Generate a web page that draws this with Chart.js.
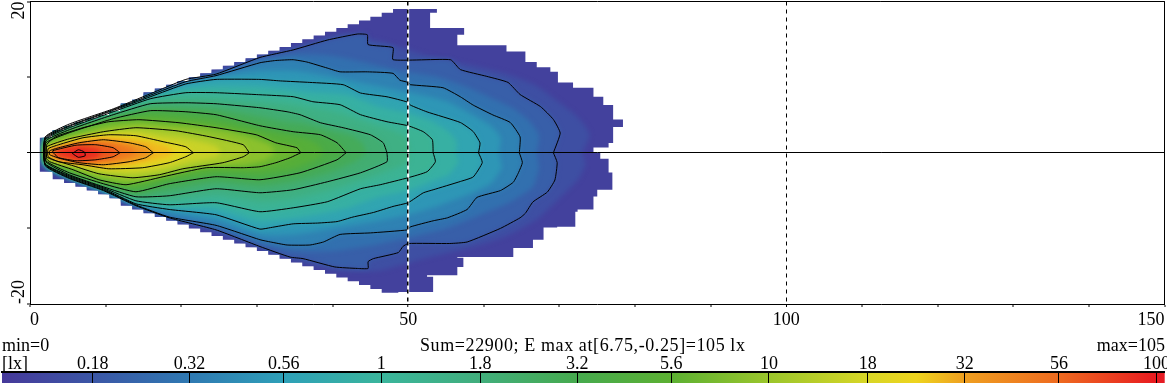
<!DOCTYPE html>
<html>
<head>
<meta charset="utf-8">
<title>Illuminance</title>
<script src="https://cdn.jsdelivr.net/npm/chart.js@4"></script>
<style>
  body { margin: 0; background: #fff; width: 1167px; height: 385px; overflow: hidden; position: relative; }
  canvas { position: absolute; left: 0; }
  #main { top: 0; }
  #bar { top: 352px; }
  .txt { position: absolute; font: 18px "Liberation Serif", serif; line-height: 18px; color: #000; white-space: pre; }
</style>
</head>
<body>
<canvas id="main" width="1167" height="335"></canvas>
<canvas id="bar" width="1167" height="33"></canvas>
<div class="txt" style="left:2px;top:336px">min=0</div>
<div class="txt" style="left:420px;top:336px;letter-spacing:0.6px">Sum=22900; E max at[6.75,-0.25]=105 lx</div>
<div class="txt" style="right:2px;top:336px">max=105</div>
<div class="txt" style="left:2px;top:354px">[lx]</div>
<script>
// outlines, [x, y] in metres, from the source round and back
const edge = [[1.3,1],[1.3,2],[3,3],[4.5,3.5],[6,4],[7.5,4.5],[9,5],[10.5,5.5],[12,6.5],[13.5,7],[15,8],[16.5,8.5],[18,9],[19.5,9.5],[21,10],[22.5,10.5],[24,11],[25.5,11.5],[27,12],[28.5,12.5],[30,13],[31.5,13.5],[33,14],[34.5,14.5],[36,15],[37.5,15.5],[39,16],[40.5,16.5],[42,17],[43.5,17.5],[45,18],[46.5,18.5],[48,19],[53.8,19],[53.8,18.5],[52.9,17.6],[52.9,16.5],[57.4,16.5],[57.4,15.6],[56.5,14.2],[63,14.2],[63,13.4],[65.5,12],[67,11.3],[68.8,10.7],[69.8,9.3],[71.8,8.6],[74.5,7.4],[75.8,6.3],[77.1,4.4],[78.4,3.4],[77.1,1.3],[76.5,0.7],[74.5,0],[75.4,-0.8],[76.5,-1.3],[76.5,-2.6],[77,-3.6],[77,-4.9],[75,-5.8],[74.5,-7.5],[72.4,-7.8],[72.1,-9.8],[69.7,-9.9],[67.9,-11.5],[66.5,-12.6],[63.9,-13.8],[56.5,-13.9],[57.3,-15.1],[56.5,-16.2],[52.5,-16.4],[53.3,-18.4],[48.7,-18.5],[46.5,-18],[45,-17.5],[43.5,-17],[42,-16.5],[40.5,-16],[39,-15.5],[37.5,-15],[36,-14.5],[34.5,-14],[33,-13.5],[31.5,-13],[30,-12.5],[28.5,-12],[27,-11.5],[25.5,-11],[24,-10.5],[22.5,-10],[21,-9.5],[19.5,-9],[18,-8.5],[16.5,-8],[15,-7.5],[13.5,-7],[12,-6],[10.5,-5.5],[9,-5],[7.5,-4.5],[6,-4],[4.5,-3.5],[3,-2.5],[1.3,-2]];
const iso014 = [[73,0],[74,2.4],[72.5,4.6],[70,6.6],[67,8.8],[63,10.4],[58,11.6],[52,13],[46,14.8],[41,15.6],[35,14],[30.4,12.8],[15.9,7.9],[5.2,3.85],[2,2.15],[2,-1.75],[5.2,-3.45],[14,-7.1],[24.6,-10.4],[30.4,-12.6],[36,-14.4],[41,-15.6],[46,-15.6],[52,-14],[58,-12.6],[63,-11],[67,-8.8],[70,-6],[72.5,-3.5],[73.5,-1.5]];
const iso018 = [[69.2,0],[70.1,2.6],[69.2,4.4],[67.5,6.1],[64.8,7.7],[63.2,9.3],[60.4,10.1],[56.9,11],[55.6,12.3],[48,12.3],[48,13.9],[44.7,14.3],[44.6,15.6],[43.3,15.7],[39.3,14.9],[34.8,13.6],[30.4,12.6],[24.6,10.4],[20.6,9.7],[15.9,7.8],[11,5.8],[5.2,3.8],[2,2.1],[2,-1.7],[5.2,-3.4],[9.7,-5],[14,-7],[18.4,-8.6],[24.6,-10.2],[30.4,-12.4],[34.4,-13.8],[36.1,-14],[40.3,-15.1],[43.3,-15.3],[44.7,-15.3],[44.7,-14.4],[45.4,-14],[48.7,-13.2],[49.3,-12.4],[50,-12],[55.5,-12],[57.8,-11.8],[62.2,-10],[64.8,-8.6],[65.5,-8],[66.5,-6.5],[68.4,-5.2],[69.4,-3.6],[69.7,-1.3]];
const iso024 = [[67,0],[67.3,2.3],[66,4.2],[64,5.8],[61.5,7],[58,8.6],[54,10],[49,10.8],[44,12],[40,12.8],[35,13],[30.4,12.3],[24.6,10.3],[15.9,7.7],[5.2,3.7],[2,2],[2,-1.65],[5.2,-3.35],[14,-6.95],[24.6,-9.9],[30.4,-12],[35,-13],[40,-13],[45,-12.3],[50,-11.2],[55,-10],[60,-8],[63.5,-6.5],[66.5,-4.5],[67.3,-2]];
const iso032 = [[64.7,0],[64.8,2.1],[63.5,4],[61.2,5],[58.6,6.3],[56.9,7.4],[54.6,8.6],[50.3,9],[50,9.3],[48.9,9.6],[48,10.5],[44.6,10.7],[41,10.7],[39.3,11.2],[36.6,12],[34.8,12.3],[32.5,12.2],[30.4,11.9],[24.6,10.2],[20.6,9.4],[15.9,7.6],[11,5.7],[5.2,3.6],[2,2],[2,-1.6],[5.2,-3.3],[9.7,-4.9],[14,-6.9],[18.4,-8.5],[24.6,-9.6],[30.4,-11.5],[31.8,-11.8],[34,-12.2],[37,-12.2],[38.8,-11.8],[41,-10.8],[45,-10.6],[49.9,-10.2],[50.3,-9.8],[53.3,-9],[55.2,-8.6],[57.8,-7.5],[59.1,-5.9],[62.2,-5],[63.9,-3.9],[64.6,-2.6],[65.1,-1.3]];
const iso042 = [[62,0],[62.2,2],[61,3.5],[58.5,5],[55,6.8],[50,8],[45,9],[40,10],[35,10.8],[30.4,10.8],[24.6,10],[15.9,7.5],[5.2,3.55],[2,1.9],[2,-1.55],[5.2,-3.2],[14,-6.8],[24.6,-8.9],[30.4,-10.8],[35,-10.8],[40,-10],[45,-9.2],[50,-8.2],[54,-7],[58,-5.5],[61,-4],[62.4,-2]];
const iso056 = [[59.3,0],[59.5,1.3],[58.6,2.8],[56.9,4],[52.5,5.4],[50.3,6.3],[49.9,6.7],[47.2,7.4],[43.7,7.9],[41.4,9],[37,9.3],[33.1,9.5],[30.4,9.7],[24.6,9.7],[20.6,9.1],[15.9,7.4],[11,5.6],[5.2,3.5],[2,1.85],[2,-1.5],[5.2,-3.17],[9.7,-4.76],[14,-6.75],[18.4,-7.5],[24.6,-8.2],[30.4,-10.1],[31.8,-9.9],[34.8,-9.4],[38,-9.3],[40.6,-9.1],[42.7,-8.5],[45.4,-7.9],[48,-7.1],[50,-6.6],[52,-5.3],[53.3,-4.9],[56.9,-3.8],[58.6,-3.2],[59.8,-1.3]];
const iso075 = [[56.3,0],[56.4,1.5],[55.3,2.8],[53,4.2],[50,5.2],[46,6.1],[42,7.6],[37,8],[30.4,8.7],[24.6,8.8],[20.6,8.5],[15.9,7.3],[11,5.5],[5.2,3.4],[2,1.8],[2,-1.5],[5.2,-3.1],[9.7,-4.7],[14,-6.55],[18.4,-7.2],[24.6,-7.4],[30.4,-9],[37,-8.3],[42,-7.3],[46,-5.9],[50,-5],[53,-3.8],[55.5,-2.8],[56.7,-1.2]];
const iso1 = [[53.3,0],[53.2,1.72],[52,2.78],[50,3.57],[47.2,4.1],[43.7,5.03],[41,6.35],[37.4,6.75],[34.8,7.41],[30.4,7.67],[24.6,7.94],[20.6,7.94],[15.9,7.14],[11,5.42],[5.2,3.31],[2,1.72],[2,-1.46],[5.2,-3.04],[9.7,-4.63],[14,-6.35],[18.4,-6.88],[24.6,-6.61],[30.4,-7.8],[34.8,-7.28],[39.3,-6.48],[43.7,-4.76],[46.3,-4.23],[50,-3.3],[52.5,-2.51],[53.6,-1.19]];
const iso135 = [[50.2,0],[50,1.5],[49,2.5],[47,3.2],[44,4.2],[41,5.2],[37,6],[34,6.5],[30.4,6.8],[24.6,7.2],[20.6,7.3],[15.9,6.8],[11,5.2],[5.2,3.2],[2,1.65],[2,-1.3],[5.2,-3],[9.7,-4.55],[14,-6.1],[18.4,-6.3],[24.6,-5.7],[30.4,-6.5],[34.8,-6.1],[39.3,-5.1],[43.7,-3.7],[47,-2.6],[50,-1.3]];
const iso18 = [[47.2,0],[46.7,1.32],[45,2.38],[41.4,3.31],[38.4,3.97],[35.7,5.03],[34,5.42],[30.4,5.95],[24.6,6.48],[20.6,6.61],[15.9,6.48],[11,5.03],[5.2,3.04],[2.1,1.59],[2.1,-1.19],[5.2,-2.91],[9.7,-4.5],[14,-5.82],[18.4,-5.69],[24.6,-4.76],[30.4,-5.29],[34.8,-4.89],[39.3,-3.84],[43.7,-2.65],[47.2,-1.19]];
const iso24 = [[44.5,0],[44,1.2],[42.5,2.2],[39.5,3],[36,3.9],[34,4.1],[30.4,4.8],[24.6,5.8],[20.6,6],[15.9,6],[11,4.8],[5.2,2.85],[2.1,1.45],[2.1,-1.1],[5.2,-2.8],[9.7,-4.3],[14,-5.5],[18.4,-4.9],[24.6,-3.95],[30.4,-4.4],[35,-3.8],[40,-2.5],[43,-1.2]];
const iso32 = [[41.8,0],[40.6,1.32],[38.4,2.38],[34.8,2.78],[30.4,3.57],[24.6,5.03],[20.6,5.42],[15.9,5.56],[11,4.5],[5.2,2.65],[2.1,1.32],[2.1,-1.06],[5.2,-2.65],[9.7,-4.1],[14,-5.16],[18.4,-4.1],[24.6,-3.17],[30.4,-3.57],[35.7,-2.65],[40.6,-0.93]];
const iso42 = [[38.8,0],[38.2,1],[36.5,1.8],[34,2.3],[30.4,3],[24.6,4.2],[20.6,4.7],[15.9,5],[11,4.2],[5.2,2.4],[2.1,1.2],[2.1,-1],[5.2,-2.45],[9.7,-3.85],[14,-4.7],[18.4,-3.6],[24.6,-2.6],[30.4,-2.7],[35,-2],[38,-0.8]];
const iso56 = [[35.8,0],[35.3,0.66],[32.5,1.32],[29.9,2.38],[24.6,3.31],[19.7,3.97],[14.4,4.37],[10.4,4.1],[7,3.31],[3.4,2.12],[2.2,1.06],[2.2,-0.79],[2.6,-1.19],[5.7,-2.25],[9.1,-3.57],[12.7,-4.23],[17.6,-3.17],[23.3,-1.98],[28.2,-1.98],[30.4,-1.85],[32.5,-1.32],[34.4,-0.66]];
const iso75 = [[32.4,0],[31.8,1],[30,1.7],[26.5,2.7],[22,3.4],[19,3.5],[14.4,3.85],[10.4,3.5],[5.2,2],[2.2,0.95],[2.2,-0.7],[5.2,-1.9],[9.1,-3.2],[13,-3.8],[17.6,-3],[23,-1.7],[28,-1.6],[31,-1]];
const iso10 = [[29,0],[28.2,1.06],[23.7,2.12],[19.3,2.91],[14,3.31],[9.7,2.78],[5.2,1.85],[2.2,0.79],[2.2,-0.53],[3,-0.93],[5.7,-1.72],[9.1,-2.78],[13.6,-3.31],[17.1,-2.91],[20.2,-2.12],[25.5,-1.32],[28.2,-0.53]];
const iso134 = [[25.3,0],[24.6,0.9],[21,1.8],[17.6,2.2],[14,2.8],[10.4,2.6],[7,2],[4,1.1],[2.3,0.6],[2.3,-0.5],[4,-1.1],[7,-1.9],[10.4,-2.6],[14,-2.7],[18,-2.1],[21,-1.3],[24.5,-0.6]];
const iso180 = [[21.6,0],[20.6,0.79],[17.6,1.46],[14,2.25],[10.4,2.38],[7,1.98],[3.8,1.06],[2.4,0.53],[2.4,-0.53],[3.8,-1.19],[7,-1.59],[10.4,-2.12],[14.9,-1.98],[18.4,-1.32],[20.6,-0.53]];
const iso240 = [[19,0],[18.2,0.8],[15.5,1.6],[12,2],[9,2.05],[6.5,1.6],[3.8,0.85],[2.5,0.4],[2.5,-0.4],[3.8,-0.95],[6.5,-1.45],[9.7,-1.85],[13.5,-1.55],[16.5,-1],[18.5,-0.4]];
const iso320 = [[16.3,0],[15.3,0.79],[13.1,1.32],[9.7,1.72],[6.5,1.32],[3.8,0.66],[2.6,0.26],[2.6,-0.26],[4.1,-0.79],[6.5,-1.32],[9.7,-1.59],[13.1,-1.19],[15.3,-0.66]];
const iso420 = [[14.1,0],[13.2,0.75],[11,1.3],[8.7,1.4],[6.3,1.15],[3.8,0.5],[2.8,0.25],[2.8,-0.2],[4,-0.7],[6.3,-1.2],[9,-1.25],[11.5,-0.9],[13.5,-0.4]];
const iso560 = [[11.9,0],[11,0.66],[8.7,1.06],[6.1,1],[3,0.26],[3.2,-0.13],[3.8,-0.66],[6.1,-1.06],[8.7,-0.93],[11,-0.53]];
const iso750 = [[9.5,0],[8.8,0.5],[7,0.75],[5,0.6],[3.5,0.2],[3.5,-0.2],[5,-0.6],[7,-0.95],[8.8,-0.65]];
const iso1000 = [[5.6,-0.1],[6.4,0.4],[7.2,0.1],[7.3,-0.4],[6.4,-0.6]];

const bandLevels = [0.105, 0.14, 0.18, 0.24, 0.32, 0.42, 0.56, 0.75, 1, 1.35, 1.8, 2.4, 3.2, 4.2, 5.6, 7.5, 10, 13.4, 18, 24, 32, 42, 56, 75, 100];
const bandOutlines = [edge, iso014, iso018, iso024, iso032, iso042, iso056, iso075, iso1, iso135, iso18, iso24, iso32, iso42, iso56, iso75, iso10, iso134, iso180, iso240, iso320, iso420, iso560, iso750, iso1000];
const lineOutlines = [iso018, iso032, iso056, iso1, iso18, iso32, iso56, iso10, iso180, iso320, iso560, iso1000];

const colorTicks = [0.18, 0.32, 0.56, 1, 1.8, 3.2, 5.6, 10, 18, 32, 56, 100];
const colorMin = 0.105;
const colorMax = 105;
const xLabels = [0, 50, 100, 150];
const yLabels = [20, -20];
const dashedAt = [50, 100];

// colour bar as seen in the legend
const stops = [[0.105,'#46399a'],[0.18,'#3b56a6'],[0.32,'#2f79b2'],[0.56,'#2ea0b8'],[1,'#3ab59c'],[1.8,'#41ae7c'],[3.2,'#46aa4e'],[5.6,'#5cb032'],[10,'#9bc62c'],[18,'#d8d626'],[24,'#eed41e'],[32,'#ef9f20'],[56,'#ee6a1f'],[100,'#e81a20'],[105,'#e51c25']];

const FONT = '"Liberation Serif", serif';

function hexRgb(h) {
  return [1, 3, 5].map(i => parseInt(h.substr(i, 2), 16));
}

function colorAt(v) {
  let i = 0;
  while (i < stops.length - 2 && v > stops[i + 1][0]) i++;
  const a = stops[i], b = stops[i + 1];
  let t = Math.log(v / a[0]) / Math.log(b[0] / a[0]);
  t = Math.max(0, Math.min(1, t));
  const ca = hexRgb(a[1]), cb = hexRgb(b[1]);
  const c = ca.map((p, k) => Math.round(p + (cb[k] - p) * t));
  return 'rgb(' + c.join(',') + ')';
}

function toPoints(list) {
  return list.map(p => ({x: p[0], y: p[1]}));
}

const datasets = [];

bandOutlines.forEach(function (outline, i) {
  const next = bandLevels[i + 1] || colorMax;
  datasets.push({
    data: toPoints(outline),
    fill: 'shape',
    backgroundColor: colorAt(Math.sqrt(bandLevels[i] * next)),
    borderWidth: 0,
    pointRadius: 0,
    stepped: i === 0,
    tension: i === 0 ? 0 : 0.2,
    order: 1000 - i
  });
});

lineOutlines.forEach(function (outline) {
  datasets.push({
    data: toPoints(outline.concat([outline[0]])),
    fill: false,
    borderColor: '#000',
    borderWidth: 1,
    pointRadius: 0,
    tension: 0.15,
    order: 100
  });
});

// white under the dashes, only shows over the colour
dashedAt.forEach(function (x) {
  datasets.push({
    data: [{x: x, y: -20}, {x: x, y: 20}],
    borderColor: '#fff',
    borderWidth: 2,
    pointRadius: 0,
    order: 50
  });
});

// top and right edge of the frame
datasets.push({
  data: [{x: 0, y: 20}, {x: 150, y: 20}, {x: 150, y: -20}],
  borderColor: '#000',
  borderWidth: 1,
  pointRadius: 0,
  clip: false,
  order: 10
});

const lastBand = bandOutlines.length - 1;

// soften the bands, keep them inside the stepped outer edge
const softBands = {
  id: 'softBands',
  afterDatasetDraw(chart, args) {
    const ctx = chart.ctx;
    if (args.index === 0) {
      ctx.save();
      ctx.beginPath();
      chart.getDatasetMeta(0).dataset.path(ctx);
      ctx.closePath();
      ctx.clip();
      ctx.filter = 'blur(2.5px)';
    }
    if (args.index === lastBand) {
      ctx.restore();
    }
  }
};

// the two rotated labels sit inside the axis ends
const yEndLabels = {
  id: 'yEndLabels',
  afterDraw(chart) {
    const ctx = chart.ctx;
    const y = chart.scales.y;
    yLabels.forEach(function (v) {
      ctx.save();
      ctx.translate(19, y.getPixelForValue(v));
      ctx.rotate(-Math.PI / 2);
      ctx.font = '18px ' + FONT;
      ctx.fillStyle = '#000';
      ctx.textBaseline = 'middle';
      ctx.textAlign = v > 0 ? 'right' : 'left';
      ctx.fillText(String(v), 0, 0);
      ctx.restore();
    });
  }
};

new Chart(document.getElementById('main'), {
  type: 'line',
  data: {datasets: datasets},
  options: {
    responsive: false,
    animation: false,
    layout: {autoPadding: false, padding: {top: 1.5, right: 2.5}},
    plugins: {legend: {display: false}, tooltip: {enabled: false}},
    scales: {
      x: {
        type: 'linear',
        min: 0,
        max: 150,
        afterFit(s) { s.height = 31; },
        afterBuildTicks(s) {
          s.ticks = [];
          for (let v = 0; v <= 150; v += 10) s.ticks.push({value: v});
        },
        grid: {
          z: 1,
          lineWidth: c => c.tick && c.tick.value === 50 ? 1.5 : (c.tick && c.tick.value === 100 ? 1 : 0),
          color: '#000',
          tickColor: '#000',
          tickWidth: 1,
          tickLength: 3
        },
        border: {z: 2, color: '#000', width: 1, dash: [4, 4]},
        ticks: {
          autoSkip: false,
          maxRotation: 0,
          align: 'inner',
          padding: 2,
          color: '#000',
          font: {family: FONT, size: 18},
          callback: v => xLabels.includes(v) ? String(v) : ''
        }
      },
      y: {
        type: 'linear',
        min: -20,
        max: 20,
        afterFit(s) { s.width = 30; },
        grid: {
          z: 1,
          lineWidth: c => c.tick && c.tick.value === 0 ? 1 : 0,
          color: '#000',
          tickColor: '#000',
          tickWidth: 1,
          tickLength: 3
        },
        border: {z: 2, color: '#000', width: 1},
        ticks: {stepSize: 10, display: false}
      }
    }
  },
  plugins: [softBands, yEndLabels]
});

function barGradient(c) {
  const chart = c.chart, area = chart.chartArea;
  if (!area) return stops[0][1];
  const g = chart.ctx.createLinearGradient(area.left, 0, area.right, 0);
  const span = Math.log(colorMax / colorMin);
  stops.forEach(s => g.addColorStop(Math.log(s[0] / colorMin) / span, s[1]));
  return g;
}

new Chart(document.getElementById('bar'), {
  type: 'bar',
  data: {
    labels: ['lx'],
    datasets: [{data: [[colorMin, colorMax]], backgroundColor: barGradient, barPercentage: 1, categoryPercentage: 1}]
  },
  options: {
    indexAxis: 'y',
    responsive: false,
    animation: false,
    layout: {autoPadding: false, padding: {left: 2, bottom: 2}},
    plugins: {legend: {display: false}, tooltip: {enabled: false}},
    scales: {
      x: {
        type: 'logarithmic',
        position: 'top',
        min: colorMin,
        max: colorMax,
        afterFit(s) { s.height = 20; },
        afterBuildTicks(s) { s.ticks = colorTicks.map(v => ({value: v})); },
        grid: {z: 1, color: '#000', lineWidth: 1, drawTicks: false},
        border: {z: 2, color: '#000', width: 2},
        ticks: {
          autoSkip: false,
          maxRotation: 0,
          padding: -3,
          color: '#000',
          font: {family: FONT, size: 18},
          callback: v => String(v)
        }
      },
      y: {display: false}
    }
  }
});
</script>
</body>
</html>
